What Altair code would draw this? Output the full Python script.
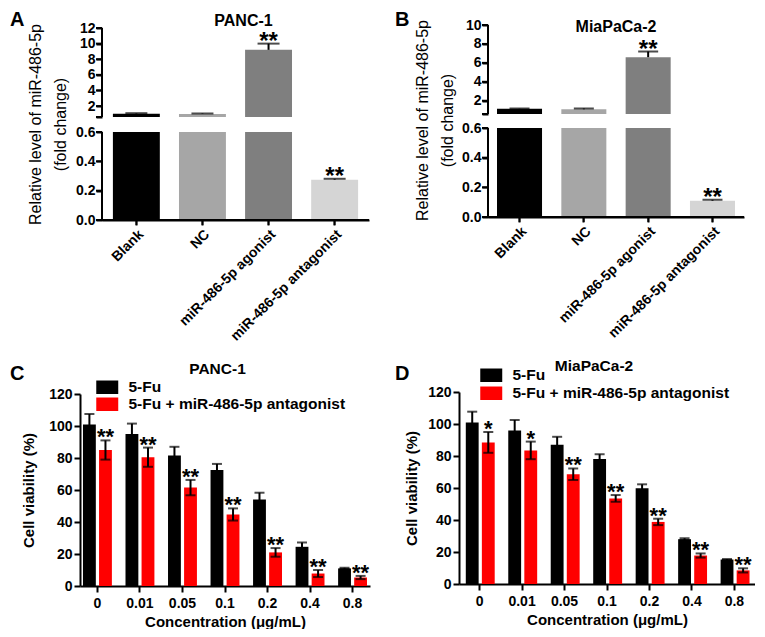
import altair as alt
import pandas as pd

FONT = "Liberation Sans"

# ---------------- data ----------------
groups = ["Blank", "NC", "miR-486-5p agonist", "miR-486-5p antagonist"]
group_colors = ["#000000", "#a6a6a6", "#7f7f7f", "#d5d5d5"]

a_mean = [1.03, 1.0, 9.2, 0.275]
a_sd = [0.06, 0.05, 0.8, 0.006]
a_sig = ["", "", "**", "**"]

b_mean = [1.15, 1.1, 6.6, 0.11]
b_sd = [0.02, 0.08, 0.6, 0.006]
b_sig = ["", "", "**", "**"]

conc = ["0", "0.01", "0.05", "0.1", "0.2", "0.4", "0.8"]
series = ["5-Fu", "5-Fu + miR-486-5p antagonist"]
series_colors = ["#000000", "#ff0000"]

c_fu_mean = [101, 95, 81.5, 72.5, 54, 24.5, 11]
c_fu_sd = [6.5, 6.5, 5.5, 3.8, 4.3, 2.7, 0.4]
c_an_mean = [85, 80.5, 61.5, 44.7, 21, 7.8, 5.3]
c_an_sd = [6, 6, 4.8, 3.8, 2.7, 2.2, 1.0]
c_sig = ["**", "**", "**", "**", "**", "**", "**"]

d_fu_mean = [101, 96, 87, 78.2, 59.8, 28, 15.3]
d_fu_sd = [6.7, 6.5, 5, 2.9, 2.5, 0.6, 0.3]
d_an_mean = [88.5, 83.5, 68.6, 53.5, 38.8, 17.8, 8.5]
d_an_sd = [6.5, 5.5, 3.6, 2.1, 2.0, 1.3, 1.3]
d_sig = ["*", "*", "**", "**", "**", "**", "**"]

# broken axis: lower segment 0-0.6, upper segment from just above 0.6
low_ticks = [0, 0.2, 0.4, 0.6]
a_up_ticks = [0.6001, 2, 4, 6, 8, 10, 12]
b_up_ticks = [0.6001, 2, 4, 6, 8, 10]

panel_letters = ["A", "B", "C", "D"]
panel_titles = ["PANC-1", "MiaPaCa-2", "PANC-1", "MiaPaCa-2"]
ab_ytitle = ["Relative level of miR-486-5p", "(fold change)"]
cd_ytitle = "Cell viability (%)"
cd_xtitle = "Concentration (\u03bcg/mL)"


def label(text, x, y, size, align="center", baseline="middle", weight="bold"):
    return alt.Chart(pd.DataFrame({"t": [text]})).mark_text(
        font=FONT, fontSize=size, fontWeight=weight, align=align,
        baseline=baseline, color="black"
    ).encode(text="t:N", x=alt.value(x), y=alt.value(y))


def expression_panel(mean, sd, sig, up_ticks, y_range, width, x0, pin, pout,
                     title, tpos, letter, lpos, ytx, yty, cap):
    split, up0, top = low_ticks[-1], up_ticks[0], up_ticks[-1]
    height = y_range[0]
    df = pd.DataFrame({"group": groups, "mean": mean, "sd": sd, "sig": sig})
    df["hi"] = df["mean"] + df["sd"]
    xs = alt.Scale(domain=groups, range=[x0, width], paddingInner=pin, paddingOuter=pout)
    xa = alt.Axis(title=None, labelAngle=315, labelAlign="right", labelBaseline="top",
                  tickSize=5, labelPadding=2)
    x = alt.X("group:N", scale=xs, axis=xa)
    col = alt.Color("group:N", scale=alt.Scale(domain=groups, range=group_colors), legend=None)
    ys = alt.Scale(domain=[0, split, up0, top], range=y_range, nice=False, zero=False)
    ya = alt.Axis(values=low_ticks + up_ticks, domain=False, labelOverlap=False, offset=-x0,
                  labelExpr=f"datum.value > {split} && datum.value < 1 ? '' : "
                            "(datum.value < 1 ? format(datum.value, '.1f') : format(datum.value, 'd'))",
                  title=ab_ytitle, titleX=ytx, titleY=yty, titleFontSize=16,
                  titleFontWeight="normal", titleLineHeight=25, titleBaseline="middle",
                  titleAlign="center", labelPadding=1, tickSize=6)
    y = lambda f: alt.Y(f, scale=ys, axis=ya)
    star_kw = dict(font=FONT, fontSize=24, fontWeight="bold", baseline="alphabetic", dy=5, color="black")

    base = alt.Chart(df)
    # x ticks (drawn first, upper half hidden by the bars)
    xticks = base.mark_tick(color="black", thickness=2, size=10, orient="vertical").encode(
        x=x, y=alt.datum(0, scale=ys, axis=ya))
    bars_low = base.transform_calculate(lowtop=f"min(datum.mean, {split})").mark_bar().encode(
        x=x, y=y("lowtop:Q"), y2=alt.datum(0), color=col)
    bars_up = base.transform_filter(f"datum.mean > {up0}").mark_bar().encode(
        x=x, y=y("mean:Q"), y2=alt.datum(up0), color=col)
    err = base.mark_rule(color="black", strokeWidth=2).encode(x=x, y=y("mean:Q"), y2="hi:Q")
    caps = base.mark_tick(color="black", thickness=2, size=cap).encode(x=x, y=y("hi:Q"))
    stars = base.mark_text(**star_kw).encode(x=x, y=y("hi:Q"), text="sig:N")

    # broken y-axis line (one piece per segment), its ticks, and the x-axis line
    segs = pd.DataFrame({"y0": [0, up0], "y1": [split, top]})
    yline = alt.Chart(segs).mark_rule(color="black", strokeWidth=2).encode(
        x=alt.value(x0), y=y("y0:Q"), y2="y1:Q")
    yticks = alt.Chart(pd.DataFrame({"v": low_ticks + up_ticks})).mark_rule(
        color="black", strokeWidth=2).encode(
        x=alt.value(x0 - 6), x2=alt.value(x0), y=y("v:Q"))
    xline = alt.Chart(pd.DataFrame({"v": [0]})).mark_rule(color="black", strokeWidth=2).encode(
        x=alt.value(x0 - 1), x2=alt.value(width), y=y("v:Q"))

    return alt.layer(
        xticks, bars_low, bars_up, err, caps, stars, yline, yticks, xline,
        label(title, tpos[0], tpos[1], 16),
        label(letter, lpos[0], lpos[1], 20, align="left", baseline="top"),
    ).properties(width=width, height=height)


def viability_panel(fu_mean, fu_sd, an_mean, an_sd, sig, width, height, ytop, pin, pout,
                    lx, ly, rowpad, title, tpos, letter, lpos, ytx):
    rows = []
    for i, c in enumerate(conc):
        rows.append({"conc": c, "series": series[0], "mean": fu_mean[i], "sd": fu_sd[i], "sig": ""})
        rows.append({"conc": c, "series": series[1], "mean": an_mean[i], "sd": an_sd[i], "sig": sig[i]})
    df = pd.DataFrame(rows)
    df["lo"] = df["mean"] - df["sd"]
    df["hi"] = df["mean"] + df["sd"]

    xs = alt.Scale(domain=conc, paddingInner=pin, paddingOuter=pout)
    xa = alt.Axis(title=cd_xtitle, labelAngle=0, titleY=28, titleBaseline="top",
                  titleFontSize=15, labelPadding=4, tickSize=6)
    x = alt.X("conc:N", scale=xs, axis=xa)
    xo = alt.XOffset("series:N", scale=alt.Scale(domain=series, paddingInner=0.2, paddingOuter=0))
    ys = alt.Scale(domain=[0, 120], range=[height, ytop], nice=False)
    ya = alt.Axis(values=[0, 20, 40, 60, 80, 100, 120], title=cd_ytitle, titleX=ytx,
                  titleBaseline="middle", titleFontSize=15, labelPadding=2, tickSize=6)
    leg = alt.Legend(
        orient="none", legendX=lx, legendY=ly, title=None, direction="vertical",
        symbolType="M-1.333,-0.818H1.333V0.818H-1.333Z", symbolSize=272,
        symbolStrokeWidth=0, symbolOpacity=1, labelFont=FONT, labelFontSize=15.5,
        labelFontWeight="bold", labelColor="black", labelOffset=12.75, labelLimit=400,
        rowPadding=rowpad, padding=0)
    col = alt.Color("series:N", scale=alt.Scale(domain=series, range=series_colors), legend=leg)

    base = alt.Chart(df)
    bars = base.mark_bar().encode(x=x, xOffset=xo, y=alt.Y("mean:Q", scale=ys, axis=ya), color=col)
    err = base.mark_rule(color="black", strokeWidth=2).encode(
        x=x, xOffset=xo, y=alt.Y("lo:Q", scale=ys, axis=ya), y2="hi:Q")
    cap_hi = base.mark_tick(color="black", thickness=2, size=10).encode(
        x=x, xOffset=xo, y=alt.Y("hi:Q", scale=ys, axis=ya))
    cap_lo = base.mark_tick(color="black", thickness=2, size=10).encode(
        x=x, xOffset=xo, y=alt.Y("lo:Q", scale=ys, axis=ya))
    stars = base.mark_text(font=FONT, fontSize=22, fontWeight="bold", baseline="alphabetic",
                           dy=4, color="black").encode(
        x=x, xOffset=xo, y=alt.Y("hi:Q", scale=ys, axis=ya), text="sig:N")
    return alt.layer(
        bars, err, cap_hi, cap_lo, stars,
        label(title, tpos[0], tpos[1], 15.5),
        label(letter, lpos[0], lpos[1], 20, align="left", baseline="top"),
    ).properties(width=width, height=height)


# panel A: group at (80, 25), plot from x=102; panel B: group at (459, 25), plot from x=488
a = expression_panel(a_mean, a_sd, a_sig, a_up_ticks, [195, 107, 92, 3], 289, 22, 0.29, 0.165,
                     panel_titles[0], (163.5, -4), panel_letters[0], (-70, -15), -67, 99, 22)
b = expression_panel(b_mean, b_sd, b_sig, b_up_ticks, [192, 103, 89, 0], 285, 29, 0.3, 0.14,
                     panel_titles[1], (157, 1.7), panel_letters[1], (-64, -15), -66, 95, 20)
# panel C: group at (80, 392); panel D: group at (459, 392)
c = viability_panel(c_fu_mean, c_fu_sd, c_an_mean, c_an_sd, c_sig, 290, 194, 2, 0.32, 0.07,
                    18.75, -13.25, 0, panel_titles[2], (137.5, -23), panel_letters[2], (-70, -28.5), -52)
d = viability_panel(d_fu_mean, d_fu_sd, d_an_mean, d_an_sd, d_sig, 296, 192, 0, 0.35, 0.16,
                    23.75, -25.25, 1, panel_titles[3], (135, -26), panel_letters[3], (-64, -28.5), -47.5)

chart = alt.concat(
    a, b, c, d, columns=2, spacing={"row": 172, "column": 89}, bounds="flush", align="each"
).resolve_scale(color="independent").properties(
    padding={"left": 2, "top": 2, "right": 0, "bottom": 0}
).configure(font=FONT).configure_view(stroke=None).configure_axis(
    domainColor="black", domainWidth=2, tickColor="black", tickWidth=2,
    labelColor="black", labelFont=FONT, labelFontSize=14, labelFontWeight="bold",
    titleFont=FONT, titleColor="black", grid=False
)

chart.save("out.html", embed_options={"renderer": "svg", "actions": False})
